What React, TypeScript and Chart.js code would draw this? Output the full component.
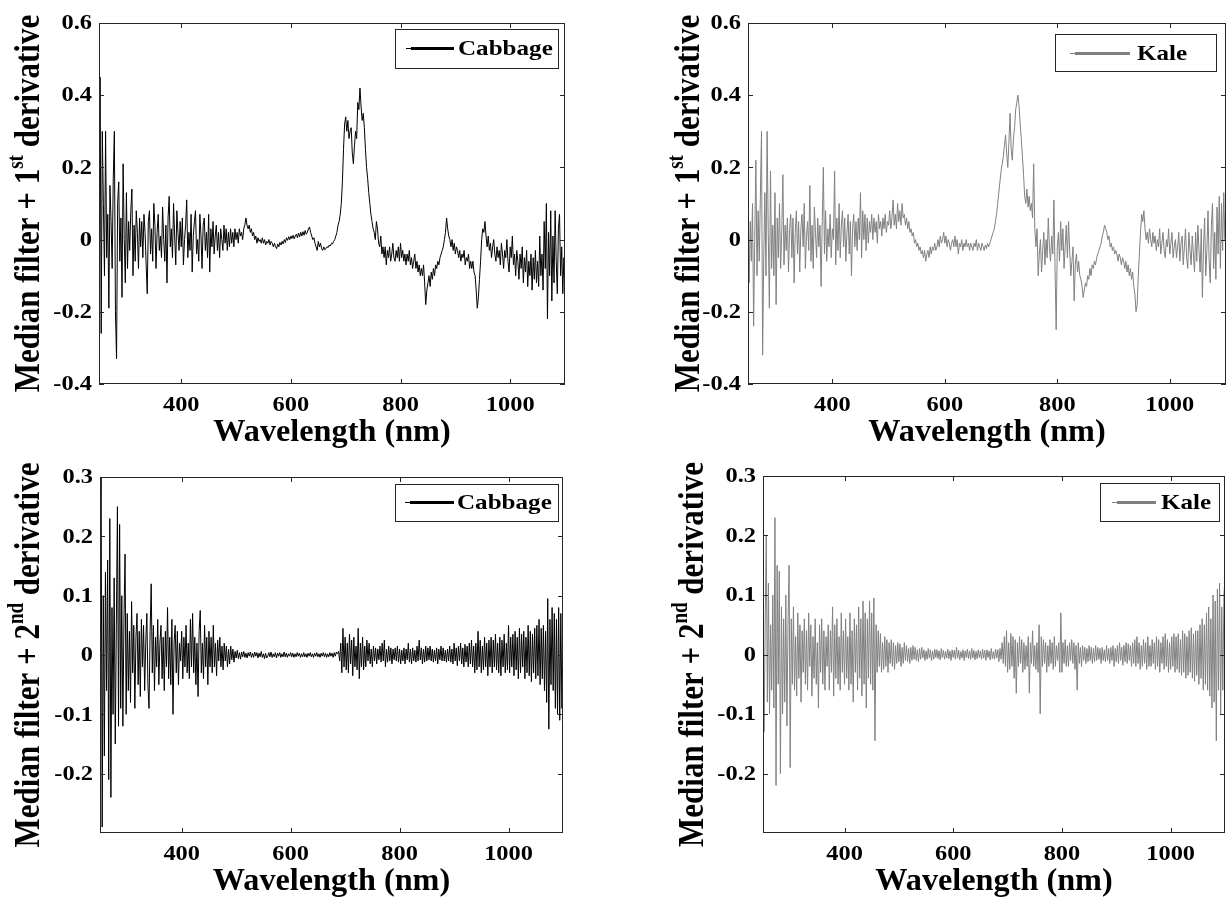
import React, { useEffect, useRef } from "react";
import { Chart, registerables } from "chart.js";

Chart.register(...registerables);

// ---------------- data (sampled every 2 nm from 250 nm to 1100 nm) ----------------
const WL_START = 250;
const WL_STEP = 2;

const xTickValues = [400, 600, 800, 1000];
const yTicksFirst = [-0.4, -0.2, 0, 0.2, 0.4, 0.6];
const yTicksSecond = [-0.2, -0.1, 0, 0.1, 0.2, 0.3];

const cabbage1st = [
  /*250*/ 0.0, 0.45, -0.26, 0.3, 0.1, -0.1, 0.3, -0.05, 0.07, -0.19, 0.15, 0.05, -0.08, 0.17, 0.3, -0.2, -0.33, 0.1, 0.16, -0.06,
  /*290*/ 0.06, -0.16, 0.21, 0.0, -0.12, 0.13, -0.08, 0.05, -0.03, 0.08, 0.14, -0.1, 0.04, -0.06, 0.08, 0.02, -0.08, 0.06, -0.02, 0.05,
  /*330*/ -0.05, 0.07, 0.02, -0.07, -0.15, 0.05, 0.08, -0.04, 0.03, -0.06, 0.1, 0.04, -0.08, 0.02, 0.07, -0.03, 0.01, -0.05, 0.09, 0.0,
  /*370*/ -0.06, 0.04, -0.12, 0.06, 0.12, -0.02, 0.03, -0.05, 0.1, 0.01, -0.07, 0.08, 0.02, -0.03, 0.05, -0.02, 0.06, -0.07, 0.0, 0.04,
  /*410*/ 0.11, -0.05, 0.02, -0.03, 0.07, -0.09, 0.01, 0.05, 0.08, -0.04, 0.0, -0.06, 0.07, 0.01, -0.08, 0.04, 0.06, -0.03, 0.02, -0.05,
  /*450*/ 0.07, -0.09, 0.03, -0.02, 0.05, -0.04, 0.01, 0.04, -0.03, 0.02, -0.05, 0.03, 0.0, -0.03, 0.04, -0.01, 0.03, -0.03, 0.02, -0.02,
  /*490*/ 0.03, -0.01, 0.02, -0.02, 0.03, 0.0, 0.02, -0.01, 0.03, 0.01, 0.02, 0.0, 0.03, 0.04, 0.06, 0.04, 0.03, 0.04, 0.02, 0.03,
  /*530*/ 0.01, 0.02, 0.0, 0.01, -0.01, 0.005, -0.005, 0.0, -0.01, 0.005, -0.01, 0.0, -0.015, -0.005, -0.01, 0.0, -0.015, -0.005, -0.01, -0.02,
  /*570*/ -0.01, -0.02, -0.025, -0.012, -0.02, -0.008, -0.015, -0.005, -0.012, 0.0, -0.008, 0.005, -0.002, 0.008, 0.0, 0.01, 0.003, 0.012, 0.002, 0.01,
  /*610*/ 0.015, 0.005, 0.018, 0.008, 0.02, 0.01, 0.022, 0.012, 0.025, 0.015, 0.02, 0.03, 0.035, 0.02, 0.01, 0.0, 0.005, -0.01, -0.02, -0.03,
  /*650*/ -0.005, -0.02, -0.01, -0.025, -0.03, -0.02, -0.028, -0.025, -0.02, -0.022, -0.015, -0.018, -0.01, -0.012, -0.005, 0.0, 0.01, 0.02, 0.04, 0.05,
  /*690*/ 0.07, 0.1, 0.16, 0.25, 0.32, 0.34, 0.3, 0.33, 0.28, 0.3, 0.31, 0.24, 0.21, 0.26, 0.3, 0.28, 0.38, 0.36, 0.42, 0.37,
  /*730*/ 0.33, 0.35, 0.31, 0.25, 0.2, 0.17, 0.13, 0.1, 0.07, 0.05, 0.03, 0.02, 0.0, 0.05, 0.03, -0.01, -0.02, 0.01, -0.04, -0.02,
  /*770*/ -0.05, -0.02, -0.07, -0.03, -0.05, -0.02, -0.06, -0.04, -0.01, -0.05, -0.06, -0.03, -0.05, -0.02, -0.06, -0.01, -0.05, -0.03, -0.06, -0.04,
  /*810*/ -0.07, -0.04, -0.06, -0.03, -0.07, -0.05, -0.08, -0.06, -0.04, -0.08, -0.06, -0.09, -0.07, -0.1, -0.08, -0.1, -0.07, -0.12, -0.18, -0.14,
  /*850*/ -0.12, -0.1, -0.13, -0.09, -0.11, -0.08, -0.1, -0.07, -0.08, -0.06, -0.07, -0.05, -0.04, -0.03, -0.02, 0.0, 0.02, 0.06, 0.03, 0.01,
  /*890*/ 0.0, -0.02, 0.0, -0.03, -0.01, -0.04, -0.02, -0.03, -0.05, -0.03, -0.06, -0.04, -0.05, -0.03, -0.07, -0.05, -0.06, -0.04, -0.08, -0.06,
  /*930*/ -0.08, -0.06, -0.09, -0.1, -0.14, -0.19, -0.16, -0.11, -0.06, 0.0, 0.03, 0.02, 0.05, 0.01, -0.02, 0.01, -0.03, -0.01, -0.05, -0.02,
  /*970*/ 0.0, -0.04, -0.06, -0.02, -0.05, -0.03, -0.07, -0.01, -0.04, -0.08, -0.03, -0.05, 0.0, -0.06, -0.09, -0.02, -0.05, 0.01, -0.07, -0.04,
  /*1010*/ -0.1, -0.03, -0.06, -0.11, -0.04, -0.08, -0.02, -0.12, -0.05, -0.09, -0.03, -0.13, -0.06, -0.1, -0.04, -0.14, -0.05, -0.11, -0.03, -0.12,
  /*1050*/ -0.06, -0.13, 0.01, -0.1, -0.04, -0.14, 0.05, -0.08, 0.1, -0.22, 0.02, -0.1, 0.08, -0.17, 0.01, -0.12, 0.08, -0.06, -0.15, 0.03,
  /*1090*/ 0.07, -0.1, -0.02, -0.15, -0.05, -0.16,
];

const kale1st = [
  /*250*/ 0.16, -0.12, 0.05, -0.06, 0.1, -0.24, 0.0, 0.22, -0.1, 0.08, -0.06, 0.12, 0.3, -0.32, -0.05, 0.13, -0.1, 0.3, 0.02, -0.19,
  /*290*/ 0.19, -0.08, 0.04, -0.1, 0.13, -0.18, 0.06, -0.05, 0.1, -0.08, 0.02, 0.18, -0.07, 0.04, -0.03, 0.06, -0.09, 0.03, 0.07, -0.05,
  /*330*/ 0.06, -0.12, 0.02, 0.08, -0.04, 0.05, -0.09, 0.03, 0.07, -0.02, 0.1, -0.08, 0.01, 0.05, -0.03, 0.15, -0.06, 0.04, -0.08, 0.09,
  /*370*/ 0.02, -0.05, 0.06, -0.02, 0.04, -0.13, 0.05, 0.2, -0.04, 0.08, -0.06, 0.03, -0.02, 0.07, -0.05, 0.03, 0.0, 0.19, -0.07, 0.06,
  /*410*/ -0.03, 0.1, -0.05, 0.04, 0.08, -0.02, 0.06, -0.06, 0.02, 0.07, -0.04, 0.05, -0.1, 0.03, 0.07, -0.02, 0.05, -0.03, 0.06, 0.0,
  /*450*/ 0.13, -0.05, 0.08, 0.0, 0.07, -0.03, 0.06, -0.01, 0.05, 0.02, 0.07, 0.0, 0.06, 0.02, 0.05, -0.01, 0.07, 0.03, 0.05, 0.01,
  /*490*/ 0.06, 0.03, 0.07, 0.02, 0.05, 0.04, 0.08, 0.03, 0.06, 0.11, 0.04, 0.07, 0.03, 0.1, 0.05, 0.08, 0.04, 0.1, 0.06, 0.07,
  /*530*/ 0.04, 0.06, 0.03, 0.05, 0.02, 0.03, 0.01, 0.02, -0.01, 0.0, -0.02, -0.01, -0.03, -0.02, -0.04, -0.03, -0.05, -0.03, -0.06, -0.04,
  /*570*/ -0.03, -0.05, -0.02, -0.04, -0.02, -0.03, -0.01, -0.03, -0.02, 0.0, -0.02, 0.01, -0.01, 0.0, 0.02, -0.01, 0.01, -0.02, 0.0, -0.01,
  /*610*/ -0.03, -0.01, 0.0, -0.02, 0.01, -0.02, 0.0, -0.04, -0.01, -0.02, 0.0, -0.03, -0.01, -0.02, 0.0, -0.02, -0.01, -0.03, -0.01, -0.02,
  /*650*/ -0.03, -0.01, -0.02, 0.0, -0.03, -0.01, -0.02, -0.03, -0.01, -0.02, -0.03, -0.015, -0.025, -0.01, -0.02, -0.01, 0.0, 0.01, 0.02, 0.03,
  /*690*/ 0.05, 0.07, 0.1, 0.13, 0.16, 0.19, 0.21, 0.23, 0.26, 0.29, 0.24, 0.2, 0.27, 0.35, 0.25, 0.22, 0.28, 0.31, 0.36, 0.38,
  /*730*/ 0.4, 0.37, 0.32, 0.28, 0.23, 0.18, 0.12, 0.1, 0.14, 0.09, 0.12, 0.08, 0.1, 0.06, 0.21, 0.03, -0.02, 0.03, -0.1, -0.04,
  /*770*/ 0.0, -0.09, -0.03, 0.02, -0.07, 0.0, -0.05, 0.06, -0.02, -0.06, 0.01, -0.04, 0.11, -0.08, -0.25, -0.02, 0.02, -0.06, 0.05, -0.03,
  /*810*/ 0.03, -0.08, -0.02, 0.04, -0.05, 0.05, -0.03, -0.1, -0.06, -0.02, -0.17, -0.07, -0.04, -0.09, -0.06, -0.1, -0.11, -0.13, -0.16, -0.14,
  /*850*/ -0.12, -0.13, -0.1, -0.11, -0.08, -0.1, -0.07, -0.08, -0.06, -0.07, -0.05, -0.04, -0.03, -0.02, -0.01, 0.01, 0.02, 0.04, 0.03, 0.02,
  /*890*/ 0.0, 0.01, -0.02, -0.01, -0.03, -0.02, -0.04, -0.03, -0.04, -0.06, -0.04, -0.05, -0.07, -0.05, -0.06, -0.08, -0.06, -0.09, -0.07, -0.1,
  /*930*/ -0.08, -0.11, -0.09, -0.13, -0.15, -0.2, -0.18, -0.1, -0.04, 0.02, 0.07, 0.05, 0.08, 0.03, 0.0, 0.02, -0.01, 0.03, 0.0, -0.02,
  /*970*/ 0.02, -0.01, 0.01, -0.03, 0.0, -0.02, 0.03, -0.04, -0.01, 0.02, -0.03, -0.05, 0.0, -0.02, 0.03, -0.04, -0.01, 0.02, -0.05, -0.02,
  /*1010*/ 0.0, -0.05, -0.02, 0.02, -0.06, -0.01, 0.01, -0.07, -0.02, 0.03, -0.05, -0.08, 0.02, -0.03, -0.07, 0.01, -0.04, -0.09, 0.02, -0.06,
  /*1050*/ 0.04, -0.03, -0.09, 0.03, -0.16, -0.02, 0.06, -0.1, -0.03, 0.08, -0.06, -0.12, 0.04, 0.1, -0.08, 0.02, -0.11, 0.09, -0.04, 0.12,
  /*1090*/ -0.08, 0.1, -0.03, 0.13, 0.0, 0.15,
];

const cabbage2nd = [
  /*250*/ 0.02, 0.3, -0.29, 0.1, -0.17, 0.14, -0.06, 0.16, -0.21, 0.23, -0.24, 0.08, -0.1, 0.13, -0.15, 0.05, 0.25, -0.12, 0.22, -0.09,
  /*290*/ 0.1, -0.12, 0.06, 0.17, -0.1, 0.07, -0.06, 0.04, -0.08, 0.09, -0.03, 0.05, -0.09, 0.03, 0.07, -0.05, 0.04, -0.07, 0.06, -0.02,
  /*330*/ 0.05, -0.06, 0.02, 0.07, -0.05, -0.09, 0.04, 0.12, -0.03, 0.05, -0.06, 0.03, -0.02, 0.06, -0.05, 0.02, 0.05, -0.04, 0.03, -0.06,
  /*370*/ 0.04, -0.02, 0.08, -0.04, 0.03, -0.05, 0.06, -0.1, 0.02, 0.05, -0.03, 0.04, -0.05, 0.02, -0.01, 0.04, -0.04, 0.03, -0.02, 0.05,
  /*410*/ -0.03, 0.02, -0.04, 0.06, -0.02, 0.07, -0.03, 0.03, -0.05, 0.02, -0.07, 0.04, 0.075, -0.03, 0.02, -0.04, 0.05, -0.02, 0.03, -0.05,
  /*450*/ 0.04, -0.02, 0.03, -0.03, 0.05, -0.02, 0.02, -0.035, 0.025, -0.01, 0.03, -0.02, 0.015, -0.025, 0.02, -0.01, 0.015, -0.02, 0.01, -0.015,
  /*490*/ 0.015, -0.008, 0.01, -0.012, 0.006, -0.005, 0.008, -0.006, 0.004, -0.007, 0.005, -0.003, 0.006, -0.004, 0.003, -0.005, 0.004, -0.002, 0.005, -0.004,
  /*530*/ 0.003, -0.004, 0.005, -0.002, 0.004, -0.005, 0.003, -0.003, 0.006, -0.004, 0.002, -0.006, 0.003, -0.005, -0.002, 0.004, -0.003, 0.005, -0.004, 0.002,
  /*570*/ -0.003, 0.004, -0.005, 0.003, -0.002, 0.004, -0.004, 0.002, -0.003, 0.005, -0.003, 0.003, -0.004, 0.002, -0.002, 0.004, -0.003, 0.003, -0.004, 0.002,
  /*610*/ -0.003, 0.004, -0.002, 0.003, -0.004, 0.002, -0.003, 0.004, -0.003, 0.002, -0.004, 0.003, -0.002, 0.004, -0.003, 0.002, -0.004, 0.003, -0.002, 0.004,
  /*650*/ -0.003, 0.002, -0.004, 0.003, -0.002, 0.004, -0.003, 0.003, -0.004, 0.002, -0.003, 0.004, -0.002, 0.003, -0.004, 0.004, -0.002, 0.005, 0.002, 0.006,
  /*690*/ -0.01, 0.02, -0.03, 0.045, -0.02, 0.03, -0.025, 0.02, -0.03, 0.035, -0.015, 0.025, -0.035, 0.03, -0.02, 0.015, -0.025, 0.045, -0.04, 0.02,
  /*730*/ -0.02, 0.03, -0.025, 0.015, -0.02, 0.025, -0.01, 0.02, -0.015, 0.01, -0.02, 0.015, -0.01, 0.012, -0.015, 0.01, -0.008, 0.015, -0.012, 0.02,
  /*770*/ -0.01, 0.025, -0.02, 0.01, -0.012, 0.015, -0.01, 0.012, -0.015, 0.01, -0.008, 0.012, -0.01, 0.015, -0.012, 0.01, -0.015, 0.008, -0.01, 0.012,
  /*810*/ -0.015, 0.01, -0.008, 0.02, -0.012, 0.01, -0.015, 0.012, -0.01, 0.008, -0.012, 0.015, -0.01, 0.025, -0.008, 0.012, -0.015, 0.01, -0.012, 0.015,
  /*850*/ -0.01, 0.012, -0.008, 0.015, -0.01, 0.01, -0.012, 0.008, -0.01, 0.012, -0.015, 0.01, -0.008, 0.015, -0.01, 0.012, -0.01, 0.008, -0.012, 0.01,
  /*890*/ -0.01, 0.015, -0.012, 0.01, -0.015, 0.02, -0.01, 0.012, -0.018, 0.015, -0.01, 0.02, -0.015, 0.012, -0.02, 0.018, -0.012, 0.015, -0.02, 0.02,
  /*930*/ -0.015, 0.025, -0.02, 0.015, -0.03, 0.02, -0.025, 0.04, -0.02, 0.025, -0.03, 0.015, -0.025, 0.03, -0.02, 0.02, -0.035, 0.025, -0.02, 0.03,
  /*970*/ -0.03, 0.025, -0.02, 0.035, -0.025, 0.02, -0.03, 0.03, -0.035, 0.025, -0.02, 0.035, -0.03, 0.02, -0.025, 0.05, -0.03, 0.03, -0.02, 0.035,
  /*1010*/ -0.035, 0.04, -0.025, 0.03, -0.04, 0.045, -0.03, 0.035, -0.02, 0.04, -0.04, 0.03, -0.03, 0.05, -0.035, 0.04, -0.045, 0.035, -0.03, 0.045,
  /*1050*/ -0.04, 0.05, -0.035, 0.06, -0.05, 0.045, -0.04, 0.05, -0.06, 0.04, -0.08, 0.095, -0.125, 0.06, -0.05, 0.08, -0.06, 0.07, -0.09, 0.06,
  /*1090*/ -0.1, 0.08, -0.11, 0.07, -0.09, 0.06,
];

const kale2nd = [
  /*250*/ 0.07, -0.13, 0.05, 0.2, -0.08, 0.12, -0.1, 0.05, -0.06, 0.1, -0.09, 0.23, -0.22, 0.15, -0.05, 0.14, -0.2, 0.08, -0.1, 0.06,
  /*290*/ -0.08, 0.1, -0.12, 0.05, 0.15, -0.19, 0.06, -0.05, 0.08, -0.06, 0.03, -0.07, 0.07, -0.04, 0.05, -0.08, 0.04, -0.03, 0.06, -0.05,
  /*330*/ 0.04, -0.06, 0.07, -0.02, 0.05, -0.07, 0.03, -0.04, 0.06, -0.05, 0.02, -0.09, 0.05, -0.03, 0.06, -0.05, 0.04, -0.06, 0.03, -0.02,
  /*370*/ 0.05, -0.06, 0.04, -0.03, 0.08, -0.07, 0.05, -0.04, 0.06, -0.05, 0.03, -0.06, 0.07, -0.03, 0.04, -0.05, 0.06, -0.04, 0.03, -0.06,
  /*410*/ 0.07, -0.05, 0.04, -0.08, 0.06, -0.03, 0.05, -0.06, 0.08, -0.04, 0.06, -0.07, 0.09, -0.05, 0.07, -0.09, 0.06, -0.04, 0.09, -0.05,
  /*450*/ 0.07, -0.06, 0.095, -0.145, 0.05, -0.03, 0.04, -0.02, 0.035, -0.03, 0.02, -0.025, 0.03, -0.02, 0.025, -0.03, 0.02, -0.015, 0.025, -0.02,
  /*490*/ 0.02, -0.025, 0.015, -0.015, 0.02, -0.012, 0.018, -0.02, 0.012, -0.015, 0.02, -0.01, 0.015, -0.012, 0.01, -0.015, 0.012, -0.01, 0.015, -0.008,
  /*530*/ 0.012, -0.01, 0.008, -0.012, 0.01, -0.008, 0.012, -0.006, 0.008, -0.01, 0.006, -0.008, 0.01, -0.006, 0.008, -0.01, 0.006, -0.008, 0.009, -0.005,
  /*570*/ 0.008, -0.007, 0.006, -0.009, 0.01, -0.005, 0.007, -0.008, 0.005, -0.006, 0.009, -0.007, 0.006, -0.01, 0.008, -0.005, 0.007, -0.008, 0.012, -0.006,
  /*610*/ 0.007, -0.009, 0.005, -0.006, 0.008, -0.01, 0.006, -0.005, 0.009, -0.007, 0.006, -0.008, 0.01, -0.006, 0.007, -0.009, 0.005, -0.007, 0.008, -0.005,
  /*650*/ 0.006, -0.008, 0.009, -0.006, 0.007, -0.01, 0.008, -0.005, 0.006, -0.009, 0.01, -0.007, 0.005, -0.008, 0.009, -0.006, 0.008, -0.012, 0.01, -0.008,
  /*690*/ 0.02, -0.015, 0.03, -0.02, 0.04, -0.03, 0.02, -0.025, 0.035, -0.02, 0.03, -0.04, 0.025, -0.065, 0.02, -0.02, 0.03, -0.015, 0.025, -0.03,
  /*730*/ 0.02, -0.025, 0.015, -0.02, 0.03, -0.065, 0.02, -0.015, 0.04, -0.02, 0.015, -0.025, 0.02, -0.03, 0.05, -0.1, 0.03, -0.02, 0.025, -0.015,
  /*770*/ 0.02, -0.03, 0.015, -0.02, 0.025, -0.015, 0.02, -0.025, 0.03, -0.02, 0.015, -0.01, 0.02, -0.03, 0.07, -0.03, 0.02, -0.015, 0.025, -0.02,
  /*810*/ 0.015, -0.02, 0.02, -0.01, 0.025, -0.015, 0.02, -0.025, 0.015, -0.06, 0.02, -0.015, 0.012, -0.02, 0.015, -0.01, 0.012, -0.015, 0.01, -0.012,
  /*850*/ 0.015, -0.01, 0.012, -0.015, 0.01, -0.012, 0.015, -0.01, 0.012, -0.008, 0.01, -0.015, 0.012, -0.01, 0.008, -0.012, 0.015, -0.01, 0.01, -0.015,
  /*890*/ 0.012, -0.01, 0.015, -0.02, 0.01, -0.012, 0.015, -0.015, 0.02, -0.01, 0.012, -0.018, 0.015, -0.012, 0.02, -0.015, 0.018, -0.01, 0.015, -0.02,
  /*930*/ 0.02, -0.015, 0.025, -0.02, 0.03, -0.015, 0.02, -0.025, 0.015, -0.02, 0.025, -0.015, 0.02, -0.025, 0.03, -0.02, 0.015, -0.02, 0.025, -0.015,
  /*970*/ 0.02, -0.025, 0.03, -0.02, 0.025, -0.03, 0.02, -0.015, 0.03, -0.025, 0.035, -0.02, 0.025, -0.03, 0.02, -0.025, 0.03, -0.02, 0.035, -0.03,
  /*1010*/ 0.03, -0.025, 0.035, -0.03, 0.025, -0.035, 0.04, -0.03, 0.035, -0.04, 0.03, -0.035, 0.04, -0.03, 0.045, -0.04, 0.035, -0.045, 0.04, -0.035,
  /*1050*/ 0.04, -0.05, 0.05, -0.04, 0.06, -0.06, 0.05, -0.05, 0.07, -0.06, 0.08, -0.07, 0.06, -0.09, 0.1, -0.08, 0.09, -0.145, 0.11, -0.06,
  /*1090*/ 0.12, -0.1, 0.08, -0.06, 0.1, 0.13,
];

// ---------------- styles / layout ----------------
const FONT = '"Liberation Serif", "Times New Roman", serif';
const CABBAGE_COLOR = "#000000";
const KALE_COLOR = "#808080";
const AXIS_COLOR = "#262626";

type Legend = { x: number; y: number; w: number; h: number; l1: number; l2: number; ly: number; tx: number };
type PanelSpec = {
  id: string;
  canvas: { x: number; y: number; w: number; h: number };
  area: { l: number; t: number; r: number; b: number };
  values: number[];
  color: string;
  label: string;
  yMin: number;
  yMax: number;
  yTicks: number[];
  order: string;
  sup: string;
  titleX: number;
  legend: Legend;
};

const PANELS: PanelSpec[] = [
  {
    id: "p1",
    canvas: { x: 0, y: 0, w: 615, h: 450 },
    area: { l: 99, t: 23, r: 565, b: 384 },
    values: cabbage1st,
    color: CABBAGE_COLOR,
    label: "Cabbage",
    yMin: -0.4,
    yMax: 0.6,
    yTicks: yTicksFirst,
    order: "1",
    sup: "st",
    titleX: 30,
    legend: { x: 395, y: 29, w: 163, h: 39, l1: 406, l2: 454, ly: 48, tx: 458 },
  },
  {
    id: "p2",
    canvas: { x: 615, y: 0, w: 616, h: 450 },
    area: { l: 748, t: 23, r: 1226, b: 384 },
    values: kale1st,
    color: KALE_COLOR,
    label: "Kale",
    yMin: -0.4,
    yMax: 0.6,
    yTicks: yTicksFirst,
    order: "1",
    sup: "st",
    titleX: 690,
    legend: { x: 1055, y: 34, w: 161, h: 37, l1: 1070, l2: 1130, ly: 53, tx: 1137 },
  },
  {
    id: "p3",
    canvas: { x: 0, y: 450, w: 615, h: 450 },
    area: { l: 100, t: 477, r: 563, b: 833 },
    values: cabbage2nd,
    color: CABBAGE_COLOR,
    label: "Cabbage",
    yMin: -0.3,
    yMax: 0.3,
    yTicks: yTicksSecond,
    order: "2",
    sup: "nd",
    titleX: 30,
    legend: { x: 395, y: 484, w: 163, h: 37, l1: 405, l2: 454, ly: 502, tx: 457 },
  },
  {
    id: "p4",
    canvas: { x: 615, y: 450, w: 616, h: 450 },
    area: { l: 763, t: 476, r: 1225, b: 833 },
    values: kale2nd,
    color: KALE_COLOR,
    label: "Kale",
    yMin: -0.3,
    yMax: 0.3,
    yTicks: yTicksSecond,
    order: "2",
    sup: "nd",
    titleX: 694,
    legend: { x: 1100, y: 483, w: 119, h: 38, l1: 1112, l2: 1156, ly: 502, tx: 1161 },
  },
];

const TICK_EM = 20;
const TICK_SX = 1.22;
const XTITLE_EM = 31;
const XTITLE_SX = 1.04;
const YTITLE_EM = 31;
const YTITLE_SY = 1.18;
const LEGEND_EM = 22;
const LEGEND_SX = 1.14;

function fmtTick(v: number): string {
  if (Math.abs(v) < 1e-9) return "0";
  return v.toFixed(1);
}

function stretchText(ctx: CanvasRenderingContext2D, text: string, x: number, y: number, sx: number) {
  ctx.save();
  ctx.translate(x, y);
  ctx.scale(sx, 1);
  ctx.fillText(text, 0, 0);
  ctx.restore();
}

function seg(ctx: CanvasRenderingContext2D, x1: number, y1: number, x2: number, y2: number) {
  ctx.beginPath();
  ctx.moveTo(x1, y1);
  ctx.lineTo(x2, y2);
  ctx.stroke();
}

function makeDecor(p: PanelSpec) {
  const ox = p.canvas.x;
  const oy = p.canvas.y;
  return {
    id: "matlabDecor_" + p.id,
    afterDraw(chart: any) {
      const ctx: CanvasRenderingContext2D = chart.ctx;
      const { left, right, top, bottom } = chart.chartArea;
      const xs = chart.scales.x;
      const ys = chart.scales.y;
      ctx.save();

      // frame
      ctx.strokeStyle = AXIS_COLOR;
      ctx.lineWidth = 1;
      ctx.strokeRect(left + 0.5, top + 0.5, right - left - 1, bottom - top - 1);

      // inward ticks on all four sides
      const TL = 5;
      xTickValues.forEach((v) => {
        const x = Math.round(xs.getPixelForValue(v)) + 0.5;
        seg(ctx, x, bottom, x, bottom - TL);
        seg(ctx, x, top, x, top + TL);
      });
      p.yTicks.forEach((v) => {
        const y = Math.round(ys.getPixelForValue(v)) + 0.5;
        seg(ctx, left, y, left + TL, y);
        seg(ctx, right, y, right - TL, y);
      });

      // tick labels
      ctx.fillStyle = "#000";
      ctx.font = `bold ${TICK_EM}px ${FONT}`;
      ctx.textAlign = "center";
      ctx.textBaseline = "alphabetic";
      xTickValues.forEach((v) => {
        stretchText(ctx, String(v), xs.getPixelForValue(v), bottom + 27, TICK_SX);
      });
      ctx.textAlign = "right";
      ctx.textBaseline = "middle";
      p.yTicks.forEach((v) => {
        stretchText(ctx, fmtTick(v), left - 7, ys.getPixelForValue(v) + 1, TICK_SX);
      });

      // x title
      ctx.font = `bold ${XTITLE_EM}px ${FONT}`;
      ctx.textAlign = "center";
      ctx.textBaseline = "alphabetic";
      stretchText(ctx, "Wavelength (nm)", (left + right) / 2, bottom + 57, XTITLE_SX);

      // y title (rotated, with superscript)
      ctx.save();
      ctx.translate(p.titleX - ox, (top + bottom) / 2);
      ctx.rotate(-Math.PI / 2);
      ctx.scale(1, YTITLE_SY);
      ctx.textAlign = "left";
      ctx.textBaseline = "middle";
      const big = `bold ${YTITLE_EM}px ${FONT}`;
      const small = `bold ${Math.round(YTITLE_EM * 0.62)}px ${FONT}`;
      const main = "Median filter + " + p.order;
      const rest = " derivative";
      ctx.font = big;
      const w1 = ctx.measureText(main).width;
      const w3 = ctx.measureText(rest).width;
      ctx.font = small;
      const w2 = ctx.measureText(p.sup).width;
      let cx = -(w1 + w2 + w3) / 2;
      ctx.font = big;
      ctx.fillText(main, cx, 0);
      cx += w1;
      ctx.font = small;
      ctx.fillText(p.sup, cx, -YTITLE_EM * 0.36);
      cx += w2;
      ctx.font = big;
      ctx.fillText(rest, cx, 0);
      ctx.restore();

      // legend
      const lg = p.legend;
      const bx = lg.x - ox;
      const by = lg.y - oy;
      ctx.fillStyle = "#fff";
      ctx.fillRect(bx, by, lg.w, lg.h);
      ctx.strokeStyle = AXIS_COLOR;
      ctx.lineWidth = 1;
      ctx.strokeRect(bx + 0.5, by + 0.5, lg.w, lg.h);
      ctx.strokeStyle = p.color;
      ctx.lineWidth = 1;
      seg(ctx, lg.l1 - ox, lg.ly - oy + 0.5, lg.l2 - ox, lg.ly - oy + 0.5);
      ctx.lineWidth = 3;
      seg(ctx, lg.l1 - ox + 5, lg.ly - oy + 0.5, lg.l2 - ox, lg.ly - oy + 0.5);
      ctx.fillStyle = "#000";
      ctx.font = `bold ${LEGEND_EM}px ${FONT}`;
      ctx.textAlign = "left";
      ctx.textBaseline = "middle";
      stretchText(ctx, p.label, lg.tx - ox, lg.ly - oy + 1, LEGEND_SX);

      ctx.restore();
    },
  };
}

function buildConfig(p: PanelSpec): any {
  const points = p.values.map((v, i) => ({ x: WL_START + i * WL_STEP, y: v }));
  const leftGap = p.area.l - p.canvas.x;
  const bottomGap = p.canvas.y + p.canvas.h - p.area.b;
  return {
    type: "line",
    data: {
      datasets: [
        {
          label: p.label,
          data: points,
          borderColor: p.color,
          backgroundColor: p.color,
          borderWidth: 1,
          pointRadius: 0,
          tension: 0,
          fill: false,
        },
      ],
    },
    options: {
      animation: false,
      responsive: false,
      maintainAspectRatio: false,
      events: [],
      layout: {
        padding: {
          left: 0,
          top: p.area.t - p.canvas.y,
          right: p.canvas.x + p.canvas.w - p.area.r,
          bottom: 0,
        },
      },
      plugins: { legend: { display: false }, tooltip: { enabled: false }, title: { display: false } },
      scales: {
        x: {
          type: "linear",
          min: 250,
          max: 1100,
          grid: { display: false },
          border: { display: false },
          ticks: { display: false },
          afterBuildTicks: (s: any) => {
            s.ticks = xTickValues.map((v) => ({ value: v }));
          },
          afterFit: (s: any) => {
            s.height = bottomGap;
          },
        },
        y: {
          type: "linear",
          min: p.yMin,
          max: p.yMax,
          grid: { display: false },
          border: { display: false },
          ticks: { display: false },
          afterBuildTicks: (s: any) => {
            s.ticks = p.yTicks.map((v) => ({ value: v }));
          },
          afterFit: (s: any) => {
            s.width = leftGap;
          },
        },
      },
    },
    plugins: [makeDecor(p)],
  };
}

function Panel({ spec }: { spec: PanelSpec }) {
  const ref = useRef<HTMLCanvasElement | null>(null);
  useEffect(() => {
    if (!ref.current) return;
    const chart = new Chart(ref.current, buildConfig(spec));
    return () => chart.destroy();
  }, [spec]);
  return (
    <canvas
      ref={ref}
      width={spec.canvas.w}
      height={spec.canvas.h}
      style={{
        position: "absolute",
        left: spec.canvas.x,
        top: spec.canvas.y,
        width: spec.canvas.w,
        height: spec.canvas.h,
      }}
    />
  );
}

export default function App() {
  return (
    <div
      style={{
        position: "absolute",
        left: 0,
        top: 0,
        width: 1231,
        height: 900,
        background: "#ffffff",
        overflow: "hidden",
      }}
    >
      {PANELS.map((p) => (
        <Panel key={p.id} spec={p} />
      ))}
    </div>
  );
}
